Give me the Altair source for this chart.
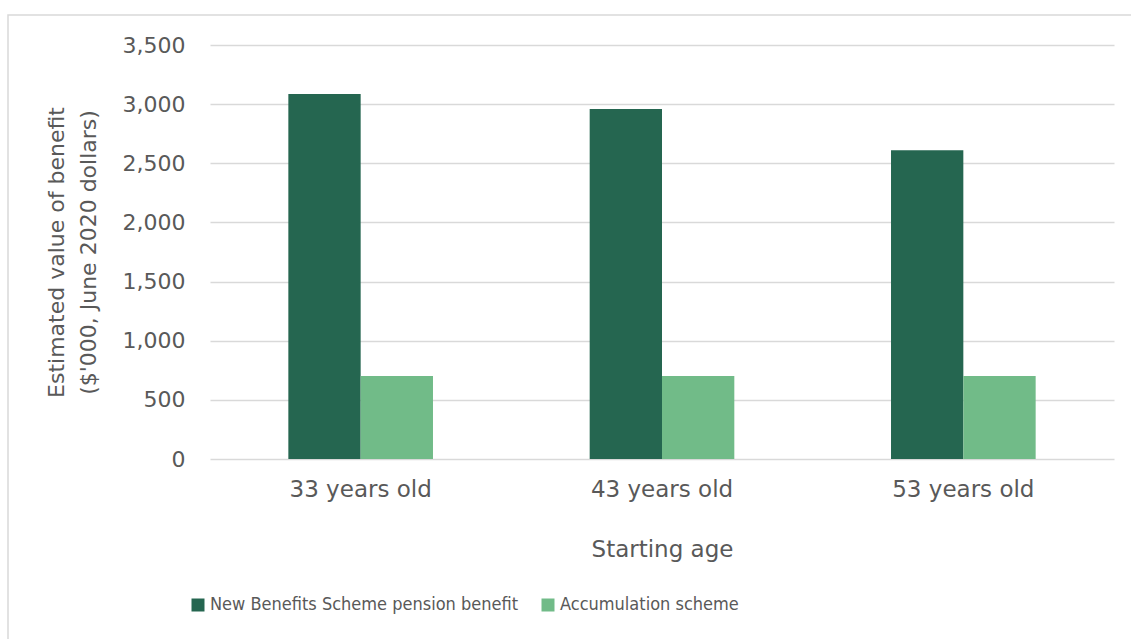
import altair as alt
import pandas as pd

categories = ["33 years old", "43 years old", "53 years old"]
series = ["New Benefits Scheme pension benefit", "Accumulation scheme"]
nbs_values = [3085, 2958, 2611]
accum_values = [702, 702, 702]
y_ticks = [0, 500, 1000, 1500, 2000, 2500, 3000, 3500]
colors = ["#256650", "#71BB88"]

rows = []
for c, v in zip(categories, nbs_values):
    rows.append({"age": c, "series": series[0], "value": v})
for c, v in zip(categories, accum_values):
    rows.append({"age": c, "series": series[1], "value": v})
df = pd.DataFrame(rows)

PW, PH = 904, 414
FONT = "DejaVu Sans"
LEGEND_FONT = "Liberation Sans Narrow, DejaVu Sans Condensed, Roboto Condensed, sans-serif"
TXT = "#595959"

frame = alt.Chart(pd.DataFrame({"d": [0]})).mark_rect(
    fillOpacity=0, stroke="#D9D9D9", strokeWidth=1.5
).encode(
    x=alt.value(-202), x2=alt.value(960), y=alt.value(-30), y2=alt.value(640)
)

bars = alt.Chart(df).mark_bar().encode(
    x=alt.X(
        "age:N", sort=categories,
        scale=alt.Scale(paddingInner=0.52, paddingOuter=0.26),
        axis=alt.Axis(
            title="Starting age", labelAngle=0, ticks=False, domain=False,
            labelPadding=19, labelFont=FONT, labelFontSize=23, labelColor=TXT,
            titleFont=FONT, titleFontSize=23, titleColor=TXT, titleFontWeight="normal",
            titleY=79, titleBaseline="top",
        ),
    ),
    xOffset=alt.XOffset("series:N", sort=series, scale=alt.Scale(paddingInner=0, paddingOuter=0)),
    y=alt.Y(
        "value:Q", scale=alt.Scale(domain=[0, 3500]),
        axis=alt.Axis(
            values=y_ticks, format=",.0f", ticks=False, domain=False,
            labelPadding=25, labelFont=FONT, labelFontSize=22, labelColor=TXT,
            gridColor="#D9D9D9", gridWidth=1.5,
            title=["Estimated value of benefit", "($'000, June 2020 dollars)"],
            titleFont=FONT, titleFontSize=22, titleColor=TXT, titleFontWeight="normal",
            titleX=-147, titleY=PH / 2, titleBaseline="alphabetic", titleLineHeight=32,
            titleAngle=270, titleAlign="center",
        ),
    ),
    color=alt.Color(
        "series:N", sort=series,
        scale=alt.Scale(domain=series, range=colors),
        legend=alt.Legend(
            title=None, orient="none", direction="horizontal",
            legendX=-21, legendY=551, padding=0,
            symbolType="square", symbolSize=169, symbolStrokeWidth=0,
            labelFont=LEGEND_FONT, labelFontSize=18, labelColor=TXT,
            labelLimit=600, labelOffset=3, columnPadding=20,
        ),
    ),
)

chart = alt.layer(frame, bars).properties(
    width=PW, height=PH,
    padding={"left": 210, "top": 45, "right": 17, "bottom": 180},
    autosize=alt.AutoSizeParams(type="none"),
    background="white",
).configure_view(strokeWidth=0)

chart.save("out.html", embed_options={"renderer": "svg", "actions": False})
